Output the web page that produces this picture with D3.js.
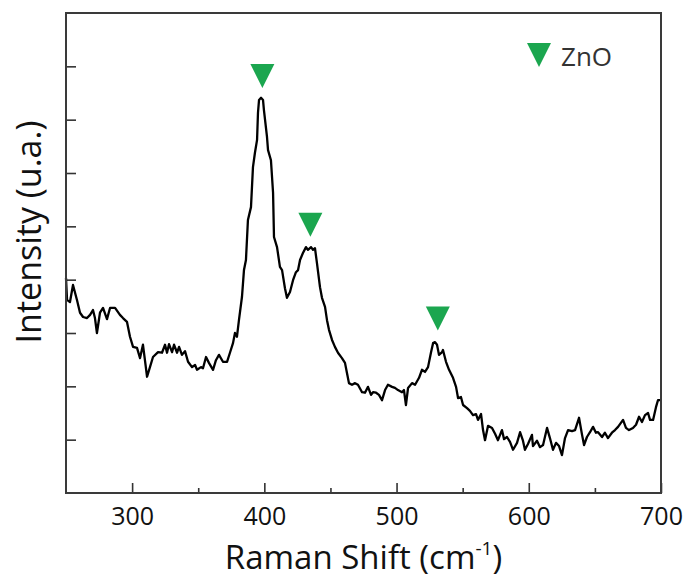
<!DOCTYPE html>
<html>
<head>
<meta charset="utf-8">
<script src="https://cdn.jsdelivr.net/npm/d3@7"></script>
<style>
  body { margin: 0; background: #fff; }
</style>
</head>
<body>
<div id="chart"></div>
<script>
// Raman shift (cm-1)
const ramanShift = [250, 250.8, 253.0, 255.3, 258.3, 260.6, 262.9, 265.9, 268.2, 270.4, 271.9, 273.4, 275.7, 278.0, 281.0, 283.3, 287.1, 290.8, 293.1, 296.1,
  298.4, 300.7, 303.7, 306.0, 308.2, 309.7, 311.3, 313.5, 315.8, 319.6, 322.6, 324.9, 326.4, 327.9, 330.2, 331.7, 334.0, 335.5, 337.7, 340.0,
  342.3, 345.3, 347.6, 349.1, 352.1, 353.6, 355.9, 358.1, 361.2, 363.4, 365.7, 368.7, 371.8, 374.0, 376.3, 377.8, 379.3, 380.8, 383.1, 384.6,
  386.1, 387.6, 389.9, 391.4, 392.9, 394.5, 395.2, 396.0, 397.5, 399.0, 399.7, 402.0, 402.8, 405.0, 406.6, 407.3, 409.6, 411.8, 413.4, 415.6,
  417.1, 419.4, 421.7, 423.9, 425.5, 427.0, 429.2, 431.5, 433.0, 435.3, 436.8, 438.3, 439.8, 442.1, 443.6, 445.9, 447.4, 448.9, 451.2, 453.4,
  455.7, 458.7, 461.0, 462.5, 464.0, 466.3, 468.6, 470.8, 473.9, 476.1, 478.4, 480.7, 482.2, 484.5, 486.7, 489.0, 491.3, 493.5, 496.6, 498.8,
  501.1, 504.1, 505.6, 507.1, 508.7, 511.7, 514.0, 517.0, 519.2, 521.5, 523.8, 526.0, 527.6, 529.1, 530.6, 532.1, 534.4, 535.1, 537.4, 539.7,
  542.7, 545.0, 546.5, 548.7, 550.3, 553.3, 555.5, 557.8, 560.1, 561.6, 563.9, 565.4, 566.9, 569.2, 572.2, 574.5, 576.7, 579.7, 581.3, 583.5,
  585.8, 588.1, 591.1, 593.4, 595.6, 597.1, 599.4, 602.4, 603.2, 606.2, 608.5, 610.8, 613.8, 616.0, 618.3, 620.6, 622.9, 625.1, 627.4, 629.7,
  632.7, 635.0, 638.0, 640.3, 641.8, 644.0, 646.3, 648.6, 650.8, 652.4, 655.4, 657.6, 659.9, 662.9, 665.2, 667.5, 671.3, 673.5, 675.8, 678.8,
  681.1, 683.4, 685.6, 687.9, 690.2, 691.7, 694.0, 696.2, 697.7, 700];

// Intensity (arbitrary units)
const intensity = [4.03, 3.62, 3.58, 3.90, 3.62, 3.38, 3.30, 3.28, 3.34, 3.43, 3.28, 3.00, 3.38, 3.47, 3.26, 3.47, 3.47, 3.34, 3.28, 3.21,
  2.93, 2.74, 2.72, 2.53, 2.78, 2.49, 2.18, 2.36, 2.55, 2.64, 2.63, 2.78, 2.63, 2.79, 2.64, 2.78, 2.63, 2.74, 2.59, 2.66,
  2.46, 2.36, 2.40, 2.31, 2.36, 2.34, 2.55, 2.44, 2.31, 2.49, 2.59, 2.46, 2.46, 2.63, 2.81, 3.00, 2.93, 3.24, 3.68, 4.18,
  4.37, 5.12, 5.36, 6.11, 6.38, 6.62, 7.13, 7.37, 7.41, 7.37, 7.18, 6.68, 6.43, 6.24, 5.63, 4.80, 4.61, 4.24, 4.18, 3.84,
  3.66, 3.77, 3.99, 4.14, 4.18, 4.37, 4.50, 4.61, 4.56, 4.61, 4.56, 4.59, 4.31, 3.86, 3.66, 3.49, 3.24, 3.06, 2.87, 2.74,
  2.63, 2.53, 2.44, 2.25, 2.06, 2.03, 2.06, 2.03, 1.89, 1.88, 1.99, 1.84, 1.89, 1.88, 1.84, 1.74, 1.93, 2.03, 1.99, 1.97,
  1.93, 1.89, 1.93, 1.65, 1.97, 2.06, 2.03, 2.16, 2.31, 2.27, 2.36, 2.63, 2.81, 2.83, 2.78, 2.59, 2.64, 2.68, 2.46, 2.31,
  2.16, 1.99, 1.78, 1.80, 1.65, 1.59, 1.54, 1.46, 1.48, 1.37, 1.48, 1.18, 0.99, 1.26, 1.22, 1.11, 0.99, 1.18, 1.01, 1.05,
  0.96, 0.81, 0.94, 1.14, 0.98, 0.81, 0.92, 1.09, 0.88, 0.98, 0.86, 0.90, 1.22, 1.03, 0.81, 0.94, 0.88, 0.71, 1.03, 1.18,
  1.16, 1.18, 1.41, 1.09, 0.90, 1.05, 1.14, 1.24, 1.13, 1.14, 1.05, 1.13, 1.03, 1.13, 1.18, 1.24, 1.37, 1.22, 1.18, 1.22,
  1.28, 1.43, 1.33, 1.46, 1.50, 1.37, 1.37, 1.61, 1.74, 1.74];

// ZnO peak markers (position, marker height)
const peakShift = [398.5, 434.8, 531.2];
const peakMarkY = [7.82, 5.03, 3.27];

const xTicks = [300, 400, 500, 600, 700];
const xMinorTicks = [350, 450, 550, 650];
const yTicks = [1, 2, 3, 4, 5, 6, 7, 8];

const width = 688, height = 581;
const margin = { top: 13, right: 27, bottom: 88, left: 66 };
const innerW = width - margin.left - margin.right;
const innerH = height - margin.top - margin.bottom;
const green = "#1ba64f";
const font = "'Open Sans', sans-serif";

const svg = d3.select("#chart").append("svg")
  .attr("width", width)
  .attr("height", height)
  .style("font-family", font);

const g = svg.append("g").attr("transform", `translate(${margin.left},${margin.top})`);

const x = d3.scaleLinear().domain([250, 700]).range([0, innerW]);
const y = d3.scaleLinear().domain([0, 9]).range([innerH, 0]);

// x axis: major ticks with labels, minor ticks, all inward
const xAxis = g.append("g").attr("transform", `translate(0,${innerH})`)
  .call(d3.axisBottom(x).tickValues(xTicks).tickSizeInner(-10).tickSizeOuter(0).tickPadding(14));
xAxis.select(".domain").remove();
xAxis.selectAll(".tick line").attr("stroke", "#333").attr("stroke-width", 1.6);
xAxis.selectAll(".tick text").attr("font-size", 25).attr("font-family", font).attr("fill", "#111");

const xMinor = g.append("g").attr("transform", `translate(0,${innerH})`)
  .call(d3.axisBottom(x).tickValues(xMinorTicks).tickSizeInner(-5).tickSizeOuter(0).tickFormat(""));
xMinor.select(".domain").remove();
xMinor.selectAll(".tick line").attr("stroke", "#333").attr("stroke-width", 1.6);

// y axis: unlabeled inward ticks
const yAxis = g.append("g")
  .call(d3.axisLeft(y).tickValues(yTicks).tickSizeInner(-10).tickSizeOuter(0).tickFormat(""));
yAxis.select(".domain").remove();
yAxis.selectAll(".tick line").attr("stroke", "#333").attr("stroke-width", 1.6);

// spectrum
const line = d3.line()
  .x((d) => x(d[0]))
  .y((d) => y(d[1]));

g.append("path")
  .datum(d3.zip(ramanShift, intensity))
  .attr("fill", "none")
  .attr("stroke", "#000")
  .attr("stroke-width", 2.3)
  .attr("stroke-linejoin", "round")
  .attr("d", line);

// frame
g.append("rect")
  .attr("width", innerW)
  .attr("height", innerH)
  .attr("fill", "none")
  .attr("stroke", "#3a3a3a")
  .attr("stroke-width", 2);

// peak markers (down triangles)
const tri = "M-12,-12L12,-12L0,12Z";
g.selectAll(".peak")
  .data(d3.zip(peakShift, peakMarkY))
  .join("path")
  .attr("class", "peak")
  .attr("d", tri)
  .attr("fill", green)
  .attr("transform", (d) => `translate(${x(d[0])},${y(d[1])})`);

// legend
const legend = svg.append("g").attr("transform", "translate(539,55)");
legend.append("path").attr("d", tri).attr("fill", green);
legend.append("text")
  .attr("x", 22)
  .attr("y", 11)
  .attr("font-size", 26)
  .attr("fill", "#333")
  .text("ZnO");

// axis titles
const xTitle = svg.append("text")
  .attr("x", margin.left + innerW / 2)
  .attr("y", 569)
  .attr("text-anchor", "middle")
  .attr("font-size", 33)
  .attr("fill", "#111");
xTitle.append("tspan").text("Raman Shift (cm");
xTitle.append("tspan").attr("font-size", 19).attr("dy", -14).text("-1");
xTitle.append("tspan").attr("dy", 14).text(")");

svg.append("text")
  .attr("transform", "translate(41,232) rotate(-90)")
  .attr("text-anchor", "middle")
  .attr("font-size", 34)
  .attr("fill", "#111")
  .text("Intensity (u.a.)");
</script>
</body>
</html>
